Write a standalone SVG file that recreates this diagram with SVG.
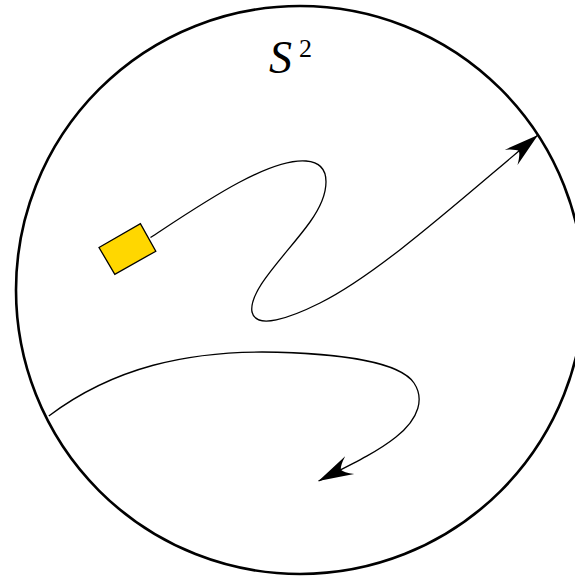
<svg xmlns="http://www.w3.org/2000/svg" width="575" height="578" viewBox="0 0 575 578">
<style>
.curve{fill:none;stroke:#000;stroke-width:1.3}
.lbl{font-family:"Liberation Serif","DejaVu Serif",serif;fill:#000}
</style>
<defs>
<marker id="ah" markerUnits="userSpaceOnUse" markerWidth="40" markerHeight="30" viewBox="-30 -10 32 20" refX="0" refY="0" orient="auto">
<path d="M0,0 Q-14,-4 -28,-8 Q-21,-3 -20,0 Q-21,3 -28,8 Q-14,4 0,0 Z" fill="#000"/>
</marker>
</defs>
<rect width="575" height="578" fill="#fff"/>
<g id="sphere">
<circle cx="300" cy="290" r="284" fill="none" stroke="#000" stroke-width="2.6"/>
<text class="lbl" x="269" y="73" font-size="46" font-style="italic">S</text>
<text class="lbl" x="299" y="57" font-size="26">2</text>
</g>
<g id="particle">
<polygon points="99,247.5 140.4,223.7 155.8,251.2 114.8,274.3" fill="#FFD700" stroke="#000" stroke-width="1.3" stroke-linejoin="miter"/>
</g>
<g id="connectors">
<path class="curve" marker-end="url(#ah)" d="M150.5,237.5 C200,205 268,158 306,161 C334,163 330,194 310,222 C288,253 248,290 252,312 C256,330 290,318 320,303 C380,273 460,200 538,135"/>
<path class="curve" marker-end="url(#ah)" d="M48.8,416 C115,366 190,352 262,352 C340,353 400,362 414,383 C424,398 420,418 396,437 C376,453 348,466 318.5,481"/>
</g>
</svg>
